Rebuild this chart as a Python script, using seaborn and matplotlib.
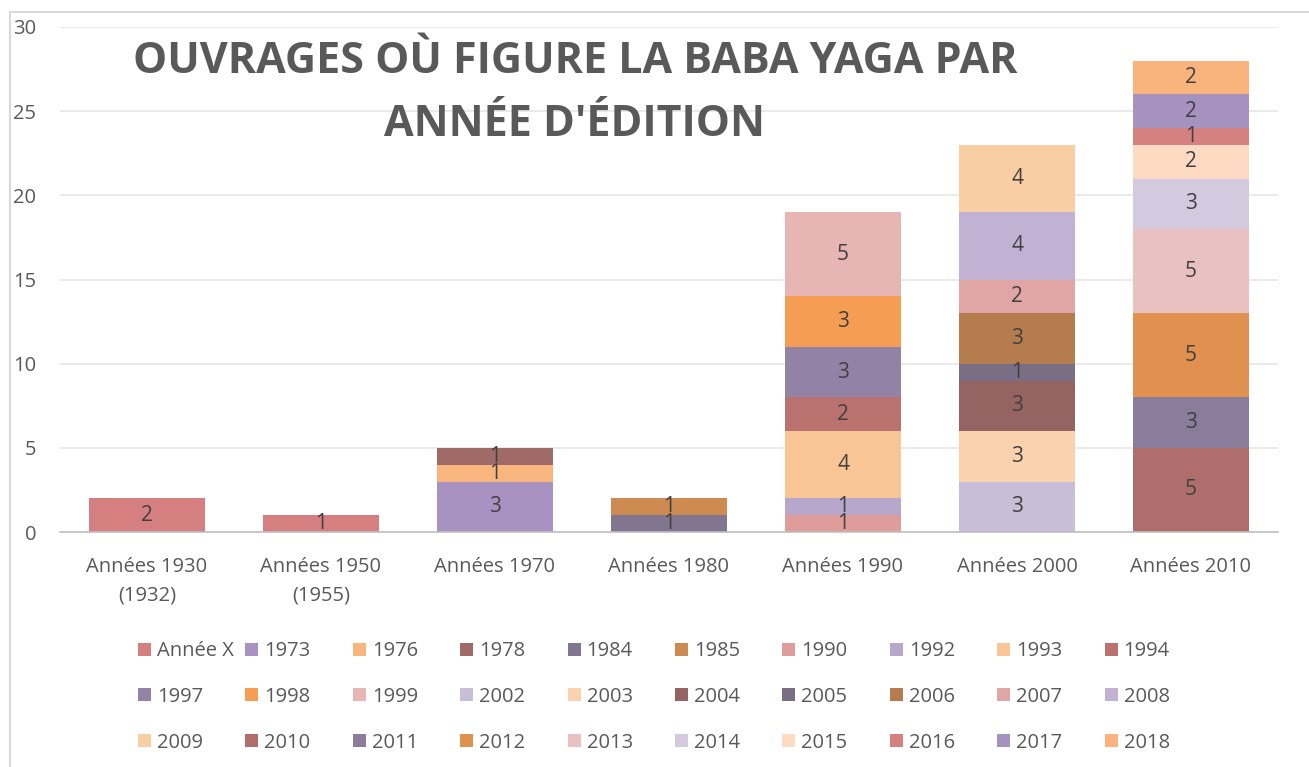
import matplotlib.pyplot as plt
import matplotlib.patches as mpatches
import numpy as np
import seaborn as sns

categories = ["Années 1930\n(1932)", "Années 1950\n(1955)", "Années 1970", "Années 1980",
              "Années 1990", "Années 2000", "Années 2010"]

series = ["Année X", "1973", "1976", "1978", "1984", "1985", "1990", "1992", "1993", "1994",
          "1997", "1998", "1999", "2002", "2003", "2004", "2005", "2006", "2007", "2008",
          "2009", "2010", "2011", "2012", "2013", "2014", "2015", "2016", "2017", "2018"]

colors = ["#D67F80", "#A792C1", "#F8B57D", "#A06A68", "#82758F", "#CD8A51", "#DE9C9B", "#B7A7CD",
          "#FAC595", "#BA7270", "#9283A6", "#F59E53", "#E6B5B4", "#C8BED8", "#FBD2AE", "#956462",
          "#7A6E85", "#B57C4E", "#E0A6A5", "#C1B2D3", "#F9CEA4", "#AF6E6C", "#8B7C9C", "#E0914F",
          "#E8C1C0", "#D3CADF", "#FCDBC2", "#D58180", "#A692BE", "#F9B47E"]

# one row per edition year, one column per decade
counts = np.array([
    [2, 1, 0, 0, 0, 0, 0],  # Année X
    [0, 0, 3, 0, 0, 0, 0],  # 1973
    [0, 0, 1, 0, 0, 0, 0],  # 1976
    [0, 0, 1, 0, 0, 0, 0],  # 1978
    [0, 0, 0, 1, 0, 0, 0],  # 1984
    [0, 0, 0, 1, 0, 0, 0],  # 1985
    [0, 0, 0, 0, 1, 0, 0],  # 1990
    [0, 0, 0, 0, 1, 0, 0],  # 1992
    [0, 0, 0, 0, 4, 0, 0],  # 1993
    [0, 0, 0, 0, 2, 0, 0],  # 1994
    [0, 0, 0, 0, 3, 0, 0],  # 1997
    [0, 0, 0, 0, 3, 0, 0],  # 1998
    [0, 0, 0, 0, 5, 0, 0],  # 1999
    [0, 0, 0, 0, 0, 3, 0],  # 2002
    [0, 0, 0, 0, 0, 3, 0],  # 2003
    [0, 0, 0, 0, 0, 3, 0],  # 2004
    [0, 0, 0, 0, 0, 1, 0],  # 2005
    [0, 0, 0, 0, 0, 3, 0],  # 2006
    [0, 0, 0, 0, 0, 2, 0],  # 2007
    [0, 0, 0, 0, 0, 4, 0],  # 2008
    [0, 0, 0, 0, 0, 4, 0],  # 2009
    [0, 0, 0, 0, 0, 0, 5],  # 2010
    [0, 0, 0, 0, 0, 0, 3],  # 2011
    [0, 0, 0, 0, 0, 0, 5],  # 2012
    [0, 0, 0, 0, 0, 0, 5],  # 2013
    [0, 0, 0, 0, 0, 0, 3],  # 2014
    [0, 0, 0, 0, 0, 0, 2],  # 2015
    [0, 0, 0, 0, 0, 0, 1],  # 2016
    [0, 0, 0, 0, 0, 0, 2],  # 2017
    [0, 0, 0, 0, 0, 0, 2],  # 2018
])

yticks = [0, 5, 10, 15, 20, 25, 30]
title = "OUVRAGES OÙ FIGURE LA BABA YAGA PAR\nANNÉE D'ÉDITION"

sns.set_theme(style="white")
plt.rcParams["font.family"] = ["Open Sans", "DejaVu Sans"]

W, H = 1309, 767
fig = plt.figure(figsize=(W / 100, H / 100), dpi=100)
ax = fig.add_axes([60 / W, 1 - 532 / H, (1278 - 60) / W, (532 - 27) / H])

x = np.arange(len(categories))
bottom = np.zeros(len(categories))
for name, col, vals in zip(series, colors, counts):
    ax.bar(x, vals, width=0.667, bottom=bottom, color=col, linewidth=0, zorder=2, label=name)
    for xi, b, v in zip(x, bottom, vals):
        if v > 0:
            ax.text(xi, b + v / 2, str(v), ha="center", va="center", fontsize=15,
                    color="#404040", zorder=3)
    bottom = bottom + vals

ax.set_xlim(-0.5, len(categories) - 0.5)
ax.set_ylim(0, 30)
ax.set_yticks(yticks)
ax.set_xticks(x, categories)
ax.yaxis.grid(True, color="#E6E6E6", linewidth=1.2, zorder=0)
ax.set_axisbelow(True)
for s in ["top", "right", "left"]:
    ax.spines[s].set_visible(False)
ax.spines["bottom"].set_color("#BFBFBF")
ax.spines["bottom"].set_linewidth(1.2)
ax.tick_params(axis="y", length=0, pad=17, labelsize=14.5, labelcolor="#595959")
ax.tick_params(axis="x", length=0, pad=18, labelsize=14.5, labelcolor="#595959")
for lbl in ax.get_xticklabels():
    lbl.set_linespacing(1.55)

fig.text(575 / W, 1 - 93 / H, title, ha="center", va="center", multialignment="center",
         fontsize=31, fontweight="bold", color="#595959", linespacing=1.58)

# legend: 3 rows of 10 equal-width columns, filled row by row
ncol = 10
leg_x0, leg_dx = 138, 107.4
leg_rows = [649, 694.5, 740]
sw = 13
for i, (name, col) in enumerate(zip(series, colors)):
    r, c = divmod(i, ncol)
    px, py = leg_x0 + c * leg_dx, leg_rows[r]
    fig.add_artist(mpatches.Rectangle((px / W, 1 - (py + sw / 2) / H), sw / W, sw / H,
                                      transform=fig.transFigure, facecolor=col, edgecolor="none"))
    fig.text((px + sw + 6) / W, 1 - py / H, name, ha="left", va="center_baseline",
             fontsize=14.5, color="#595959")

# outer chart border (partly cropped in the reference)
fig.add_artist(mpatches.Rectangle((10 / W, -0.1), 1.2, 1.1 - 12 / H, transform=fig.transFigure,
                                  fill=False, edgecolor="#D9D9D9", linewidth=1.5))

fig.savefig("out.png", dpi=100)
